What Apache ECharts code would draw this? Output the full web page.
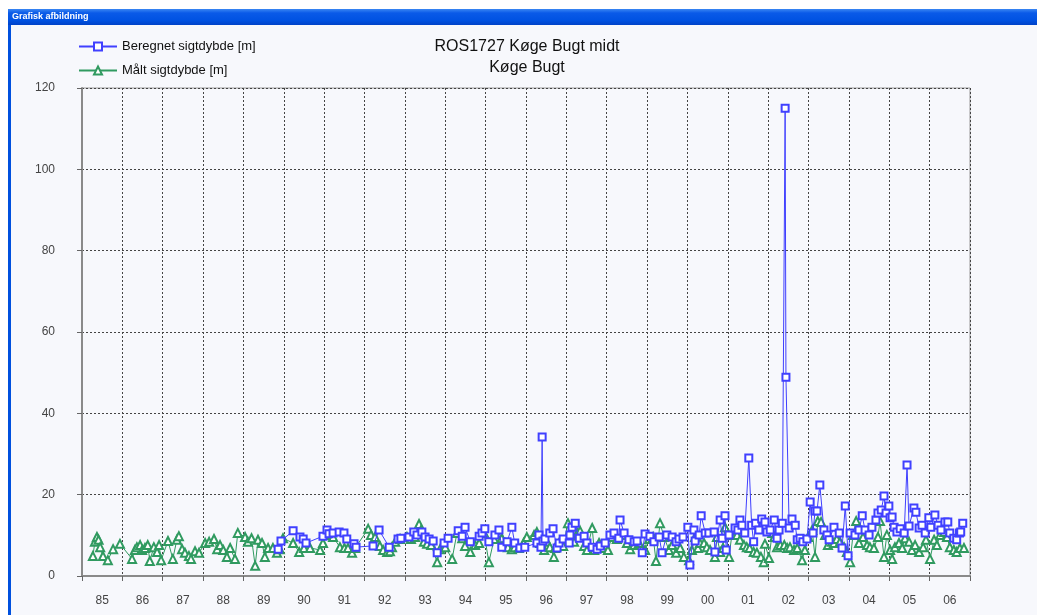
<!DOCTYPE html>
<html><head><meta charset="utf-8">
<script src="https://cdn.jsdelivr.net/npm/echarts@6/dist/echarts.min.js"></script>
<style>html,body{margin:0;padding:0;background:#fff}#c{width:1037px;height:615px}</style>
</head><body><div id="c"></div>
<script>
const yearLabels = ['85','86','87','88','89','90','91','92','93','94','95','96','97','98','99','00','01','02','03','04','05','06'];
const yTicks = [0, 20, 40, 60, 80, 100, 120];
const seriesNames = ['Beregnet sigtdybde [m]', 'Målt sigtdybde [m]'];
const chartTitle = 'ROS1727 Køge Bugt midt\nKøge Bugt';
const windowTitle = 'Grafisk afbildning';

// Beregnet (computed) Secchi depth: [decimal year, metres]
const beregnet = [
[1989.86,6.6],[1989.93,8.6],[1990.23,11.1],[1990.40,9.6],[1990.48,9.1],[1990.55,8.1],[1990.97,9.8],
[1991.07,11.3],[1991.12,10.4],[1991.22,10.6],[1991.37,10.8],[1991.49,10.6],[1991.56,9.1],[1991.74,7.9],[1991.79,7.1],
[1992.21,7.4],[1992.36,11.3],[1992.61,7.1],[1992.83,9.1],[1992.90,9.3],
[1993.10,9.6],[1993.22,10.8],[1993.30,10.1],[1993.42,10.8],[1993.50,9.6],[1993.60,9.1],[1993.70,8.6],[1993.80,5.7],[1993.97,8.1],
[1994.07,9.3],[1994.32,11.1],[1994.42,9.8],[1994.49,12.0],[1994.62,8.4],[1994.84,9.8],[1994.91,10.6],[1994.98,11.6],
[1995.08,8.4],[1995.23,10.1],[1995.33,11.3],[1995.40,7.1],[1995.53,8.4],[1995.65,12.0],[1995.72,8.1],[1995.85,6.9],[1995.97,7.1],
[1996.27,8.1],[1996.32,10.1],[1996.37,7.1],[1996.40,34.2],[1996.42,8.6],[1996.47,9.1],[1996.59,10.6],[1996.67,11.6],[1996.77,6.9],[1996.82,8.1],[1996.92,9.1],
[1997.07,8.1],[1997.09,10.1],[1997.14,12.0],[1997.22,13.0],[1997.32,9.3],[1997.44,9.8],[1997.51,8.1],[1997.64,7.1],[1997.76,6.6],[1997.84,7.4],[1997.96,8.1],
[1998.08,10.1],[1998.18,10.6],[1998.30,9.3],[1998.33,13.8],[1998.43,10.6],[1998.55,8.9],[1998.68,8.4],[1998.75,8.6],[1998.88,5.7],[1998.95,10.3],
[1999.07,9.8],[1999.17,8.4],[1999.30,9.6],[1999.37,5.7],[1999.49,10.1],[1999.62,9.6],[1999.72,8.4],[1999.79,9.1],[1999.89,9.6],
[2000.01,12.0],[2000.06,2.7],[2000.16,11.3],[2000.19,8.6],[2000.29,10.1],[2000.34,14.8],[2000.44,10.6],[2000.53,10.6],[2000.66,10.8],[2000.68,5.9],[2000.81,13.8],[2000.86,9.3],[2000.93,14.8],[2000.96,6.4],
[2001.03,10.1],[2001.18,11.8],[2001.25,11.3],[2001.30,13.8],[2001.35,12.5],[2001.42,10.6],[2001.52,29.0],[2001.59,12.5],[2001.64,8.4],[2001.69,13.0],[2001.77,11.3],[2001.84,14.0],[2001.92,13.3],[2001.97,10.8],
[2002.05,11.3],[2002.15,13.8],[2002.22,9.3],[2002.27,11.3],[2002.35,13.0],[2002.42,115.0],[2002.44,48.9],[2002.52,11.8],[2002.59,14.0],[2002.67,12.5],[2002.72,8.9],[2002.79,9.3],[2002.86,8.4],[2002.96,9.1],
[2003.04,18.2],[2003.11,10.6],[2003.16,16.0],[2003.21,16.0],[2003.28,22.4],[2003.38,11.3],[2003.46,10.1],[2003.51,8.9],[2003.63,12.0],[2003.76,10.6],[2003.83,6.9],[2003.91,17.2],[2003.98,5.0],
[2004.03,10.6],[2004.15,10.1],[2004.25,11.3],[2004.33,14.8],[2004.40,11.3],[2004.50,10.1],[2004.57,12.0],[2004.67,13.8],[2004.72,15.5],[2004.80,16.2],[2004.87,19.7],[2004.92,15.5],[2004.99,17.2],
[2005.02,14.3],[2005.07,14.5],[2005.12,12.0],[2005.19,10.8],[2005.27,11.6],[2005.37,10.6],[2005.44,27.3],[2005.49,12.3],[2005.61,16.7],[2005.66,15.7],[2005.74,11.8],[2005.81,12.5],[2005.89,10.6],[2005.98,14.3],
[2006.03,12.0],[2006.13,15.0],[2006.21,12.5],[2006.28,11.3],[2006.38,13.3],[2006.45,13.3],[2006.50,10.6],[2006.60,9.3],[2006.67,8.9],[2006.74,10.6],[2006.77,10.8],[2006.82,13.0]
];

// Målt (measured) Secchi depth: [decimal year, metres]
const maalt = [
[1985.27,4.9],[1985.32,8.4],[1985.37,9.6],[1985.41,8.9],[1985.45,7.1],[1985.52,4.9],[1985.64,3.9],[1985.77,6.6],[1985.94,7.9],
[1986.24,4.2],[1986.31,6.4],[1986.36,7.1],[1986.44,7.6],[1986.49,6.4],[1986.56,6.9],[1986.63,7.6],[1986.68,3.7],[1986.78,7.1],[1986.86,5.9],[1986.91,7.6],[1986.96,3.9],
[1987.13,8.6],[1987.25,4.2],[1987.35,8.9],[1987.40,9.8],[1987.48,6.6],[1987.55,5.7],[1987.65,4.9],[1987.70,4.2],[1987.80,6.1],[1987.90,5.7],
[1988.05,8.1],[1988.15,8.4],[1988.27,9.1],[1988.35,6.6],[1988.42,7.6],[1988.50,6.4],[1988.59,4.7],[1988.67,6.9],[1988.79,4.2],[1988.86,10.6],
[1989.04,9.6],[1989.11,8.4],[1989.20,9.3],[1989.29,2.5],[1989.36,8.9],[1989.46,8.1],[1989.53,4.7],[1989.61,6.9],[1989.73,6.9],[1989.83,5.7],[1989.90,6.6],[1989.98,9.3],
[1990.23,8.1],[1990.38,5.9],[1990.50,6.9],[1990.65,6.9],[1990.90,6.4],[1990.97,8.1],
[1991.10,10.1],[1991.22,9.6],[1991.39,7.1],[1991.50,6.9],[1991.59,6.9],[1991.69,5.7],[1991.77,6.9],
[1992.09,11.6],[1992.16,10.1],[1992.26,9.6],[1992.38,7.4],[1992.46,6.4],[1992.56,5.9],[1992.63,6.1],[1992.68,7.1],[1992.76,8.4],[1992.88,9.1],
[1993.05,9.6],[1993.15,9.1],[1993.25,9.6],[1993.35,12.8],[1993.40,11.3],[1993.47,8.4],[1993.55,7.9],[1993.65,7.6],[1993.80,3.4],[1993.87,6.6],
[1994.00,7.1],[1994.17,4.2],[1994.29,10.6],[1994.42,9.3],[1994.49,7.4],[1994.62,5.9],[1994.74,7.6],[1994.84,8.1],[1994.96,10.6],
[1995.08,3.4],[1995.21,9.1],[1995.33,10.6],[1995.40,9.3],[1995.48,8.1],[1995.55,7.1],[1995.65,6.6],[1995.72,7.1],[1995.82,6.9],[1995.94,8.1],
[1996.02,9.6],[1996.20,10.1],[1996.27,10.8],[1996.35,8.1],[1996.45,6.4],[1996.52,8.4],[1996.59,7.1],[1996.69,4.7],[1996.72,6.9],[1996.82,8.1],[1996.92,7.4],
[1997.04,13.0],[1997.09,10.6],[1997.19,8.4],[1997.27,10.6],[1997.34,11.1],[1997.44,7.4],[1997.51,6.4],[1997.64,11.8],[1997.69,6.4],[1997.81,8.1],[1997.89,6.9],
[1998.03,6.4],[1998.13,9.6],[1998.25,9.1],[1998.38,10.1],[1998.50,8.1],[1998.58,6.6],[1998.68,7.6],[1998.80,8.1],[1998.95,6.4],
[1999.05,9.1],[1999.15,9.6],[1999.22,3.7],[1999.32,13.0],[1999.42,9.6],[1999.54,6.4],[1999.62,7.6],[1999.72,5.7],[1999.82,6.9],[1999.91,4.7],
[2000.04,3.9],[2000.11,6.4],[2000.19,9.6],[2000.26,6.9],[2000.31,8.1],[2000.41,8.1],[2000.48,7.1],[2000.56,6.4],[2000.68,4.7],[2000.73,9.6],[2000.81,5.9],[2000.88,6.9],[2000.93,12.0],
[2001.03,4.7],[2001.10,10.1],[2001.23,10.1],[2001.30,8.9],[2001.40,7.6],[2001.47,7.1],[2001.54,6.9],[2001.64,5.9],[2001.72,5.7],[2001.82,4.7],[2001.89,3.4],[2001.92,7.9],
[2002.02,4.4],[2002.10,10.6],[2002.15,9.6],[2002.22,7.1],[2002.30,7.6],[2002.40,7.6],[2002.47,6.9],[2002.54,7.1],[2002.64,6.4],[2002.72,6.9],[2002.84,3.9],[2002.91,6.4],[2002.99,9.6],
[2003.09,11.3],[2003.16,4.7],[2003.23,13.5],[2003.31,13.3],[2003.41,10.1],[2003.48,7.6],[2003.58,8.4],[2003.63,8.1],[2003.70,9.1],[2003.78,8.4],[2003.88,7.1],[2003.95,5.9],
[2004.03,3.4],[2004.10,10.1],[2004.18,13.5],[2004.25,8.1],[2004.35,9.6],[2004.45,7.6],[2004.52,7.1],[2004.62,6.9],[2004.72,9.6],[2004.77,13.5],[2004.87,4.7],[2004.94,10.1],
[2005.02,6.4],[2005.07,4.2],[2005.14,7.1],[2005.24,8.1],[2005.32,6.9],[2005.39,9.3],[2005.49,8.4],[2005.56,6.4],[2005.64,7.6],[2005.74,5.9],[2005.84,7.1],[2005.91,8.9],
[2006.01,4.2],[2006.11,8.9],[2006.18,7.6],[2006.26,10.1],[2006.36,10.8],[2006.43,9.6],[2006.50,7.1],[2006.60,6.4],[2006.67,5.9],[2006.75,6.9],[2006.85,6.9]
];

const chart = echarts.init(document.getElementById('c'), null, {renderer: 'canvas'});
const font = 'Liberation Sans, Arial, sans-serif';
chart.setOption({
  animation: false,
  backgroundColor: '#ffffff',
  graphic: [
    {type: 'rect', z: -10, shape: {x: 8, y: 9, width: 1029, height: 606}, style: {fill: '#f7f8fc'}, silent: true},
    {type: 'rect', z: -9, shape: {x: 8, y: 9, width: 1029, height: 16},
     style: {fill: new echarts.graphic.LinearGradient(0, 0, 0, 1, [
       {offset: 0, color: '#3a86f2'}, {offset: 0.25, color: '#0a5ae8'}, {offset: 0.7, color: '#0052e2'}, {offset: 1, color: '#0042c8'}])}, silent: true},
    {type: 'rect', z: -9, shape: {x: 8, y: 25, width: 3, height: 590}, style: {fill: '#0050de'}, silent: true},
    {type: 'text', z: 10, x: 12, y: 17, style: {text: windowTitle, fill: '#ffffff', font: 'bold 9px "Liberation Sans", Arial, sans-serif', verticalAlign: 'middle'}, silent: true}
  ],
  title: {
    text: chartTitle,
    left: 527, top: 36, textAlign: 'center', padding: 0,
    textStyle: {fontFamily: font, fontSize: 16, fontWeight: 'normal', color: '#111', lineHeight: 21}
  },
  legend: {
    orient: 'vertical', left: 78, top: 40, padding: 0, itemWidth: 38, itemHeight: 10, itemGap: 11,
    textStyle: {fontFamily: font, fontSize: 13, color: '#111'},
    data: seriesNames
  },
  grid: {left: 82, top: 88, width: 888, height: 488, show: true, backgroundColor: 'transparent', borderColor: '#9a9a9a', borderWidth: 1},
  xAxis: [
    {type: 'category', data: yearLabels, boundaryGap: true, position: 'bottom',
     axisLine: {lineStyle: {color: '#8a8a8a', width: 2}},
     axisTick: {show: true, interval: 0, length: 5, lineStyle: {color: '#666'}},
     axisLabel: {interval: 0, margin: 19, color: '#444', fontFamily: font, fontSize: 12},
     splitLine: {show: true, interval: 0, lineStyle: {color: '#444', type: [2, 2], width: 1}}},
    {type: 'value', min: 1985, max: 2007, show: false}
  ],
  yAxis: {
    type: 'value', min: yTicks[0], max: yTicks[yTicks.length - 1], interval: 20,
    axisLine: {show: true, lineStyle: {color: '#8a8a8a', width: 2}},
    axisTick: {show: true, length: 5, lineStyle: {color: '#666'}},
    axisLabel: {margin: 27, color: '#444', fontFamily: font, fontSize: 12},
    splitLine: {show: true, lineStyle: {color: '#444', type: [2, 2], width: 1}}
  },
  series: [
    {name: seriesNames[1], type: 'line', xAxisIndex: 1, data: maalt,
     symbol: 'emptyTriangle', symbolSize: 8, showAllSymbol: true,
     itemStyle: {color: '#309a60'}, lineStyle: {color: '#309a60', width: 1}, z: 3},
    {name: seriesNames[0], type: 'line', xAxisIndex: 1, data: beregnet,
     symbol: 'emptyRect', symbolSize: 7, showAllSymbol: true,
     itemStyle: {color: '#4040ff'}, lineStyle: {color: '#4040ff', width: 1}, z: 4}
  ]
});
</script></body></html>
